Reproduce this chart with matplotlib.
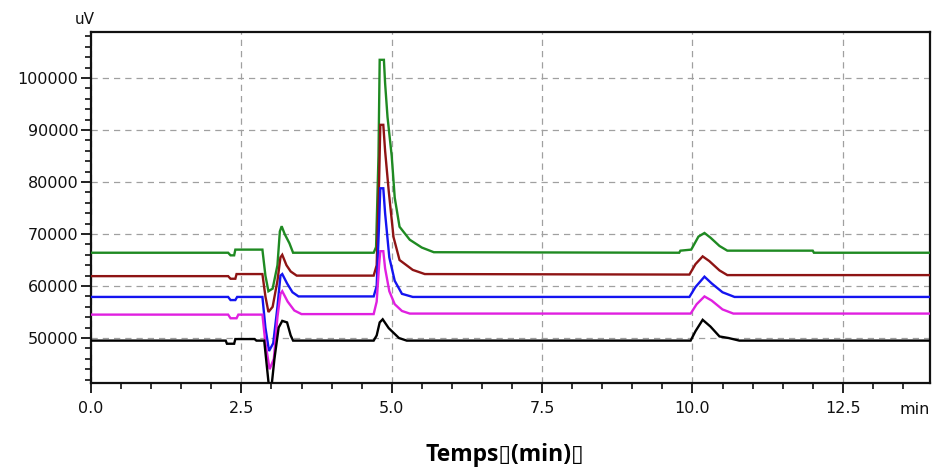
import matplotlib
matplotlib.use("Agg")
import matplotlib.pyplot as plt
from matplotlib.ticker import MultipleLocator, FixedLocator

# Chromatogram traces (retention time in min, detector signal in uV)
green_t = [0.00, 2.28, 2.32, 2.38, 2.40, 2.85, 2.90, 2.95, 3.02, 3.10, 3.14, 3.17, 3.22, 3.30, 3.36,
           4.70, 4.74, 4.78, 4.80, 4.87, 4.89, 4.93, 5.00, 5.05, 5.13, 5.30, 5.50, 5.70,
           9.78, 9.80, 9.98, 10.10, 10.20, 10.30, 10.45, 10.58, 12.00, 12.02, 13.95]
green_v = [66400, 66400, 65900, 65900, 67000, 67000, 62000, 59000, 59500, 64000, 70500, 71500, 70000, 68200, 66400,
           66400, 67500, 85000, 103500, 103500, 99000, 92500, 85000, 77000, 71400, 68900, 67400, 66500,
           66400, 66800, 67000, 69500, 70200, 69300, 67700, 66800, 66800, 66400, 66400]

red_t = [0.00, 2.28, 2.32, 2.40, 2.42, 2.85, 2.90, 2.95, 3.02, 3.10, 3.15, 3.18, 3.25, 3.32, 3.42,
         4.70, 4.75, 4.79, 4.81, 4.86, 4.89, 4.95, 5.03, 5.13, 5.35, 5.55,
         9.95, 10.05, 10.17, 10.28, 10.45, 10.58, 13.95]
red_v = [61900, 61900, 61400, 61400, 62300, 62300, 58000, 55000, 56000, 61000, 65500, 66000, 64000, 62800, 62000,
         62000, 64000, 80000, 91000, 91000, 86000, 78300, 69400, 65000, 63100, 62300,
         62200, 64200, 65700, 64800, 63000, 62100, 62100]

blue_t = [0.00, 2.28, 2.32, 2.40, 2.43, 2.85, 2.90, 2.96, 3.03, 3.10, 3.15, 3.18, 3.26, 3.35, 3.45,
          4.70, 4.75, 4.79, 4.81, 4.86, 4.89, 4.96, 5.05, 5.17, 5.35,
          9.95, 10.05, 10.20, 10.32, 10.50, 10.70, 13.95]
blue_v = [57900, 57900, 57300, 57300, 57900, 57900, 52000, 47500, 49000, 56000, 62000, 62300, 60500, 58800, 58000,
          58000, 60000, 72000, 78800, 78800, 74000, 65500, 61000, 58500, 57900,
          57900, 59800, 61800, 60500, 58800, 57900, 57900]

magenta_t = [0.00, 2.28, 2.32, 2.42, 2.45, 2.85, 2.90, 2.97, 3.04, 3.10, 3.15, 3.18, 3.27, 3.38, 3.50,
             4.70, 4.75, 4.79, 4.81, 4.86, 4.89, 4.96, 5.05, 5.17, 5.30,
             9.97, 10.07, 10.20, 10.32, 10.50, 10.68, 13.95]
magenta_v = [54500, 54500, 53800, 53800, 54500, 54500, 49000, 44000, 46000, 54000, 58500, 59000, 57000, 55300, 54600,
             54600, 57000, 64000, 66700, 66700, 63400, 59000, 56500, 55200, 54700,
             54700, 56500, 58000, 57200, 55500, 54700, 54700]

black_t = [0.00, 2.24, 2.26, 2.38, 2.40, 2.72, 2.75, 2.88, 2.92, 2.96, 3.00, 3.05, 3.12, 3.18, 3.26, 3.32, 3.36,
           4.70, 4.75, 4.80, 4.85, 4.95, 5.12, 5.25,
           9.97, 10.05, 10.17, 10.30, 10.45, 10.60, 10.78, 13.95]
black_v = [49500, 49500, 48900, 48900, 49800, 49800, 49500, 49500, 45000, 40500, 40500, 46000, 52000, 53300, 53000, 50500, 49500,
           49500, 50500, 53000, 53600, 51900, 50000, 49500,
           49500, 51300, 53500, 52200, 50300, 50000, 49500, 49500]

x_ticks = [0.0, 2.5, 5.0, 7.5, 10.0, 12.5]
x_tick_labels = ["0.0", "2.5", "5.0", "7.5", "10.0", "12.5"]
y_ticks = [50000, 60000, 70000, 80000, 90000, 100000]
y_tick_labels = ["50000", "60000", "70000", "80000", "90000", "100000"]

fig = plt.figure(figsize=(9.37, 4.75), dpi=100)
ax = fig.add_axes([91 / 937, 1 - 383 / 475, (930 - 91) / 937, (383 - 32) / 475])

traces = [
    (green_t, green_v, "#1f8a22"),
    (red_t, red_v, "#8e1414"),
    (blue_t, blue_v, "#1414f0"),
    (magenta_t, magenta_v, "#e020e0"),
    (black_t, black_v, "#000000"),
]
for t, v, c in traces:
    ax.plot(t, v, color=c, lw=1.7, solid_joinstyle="miter", zorder=3)

ax.set_xlim(0, 13.95)
ax.set_ylim(41350, 108850)

ax.xaxis.set_major_locator(FixedLocator(x_ticks))
ax.set_xticklabels(x_tick_labels)
ax.xaxis.set_minor_locator(MultipleLocator(0.5))
ax.yaxis.set_major_locator(FixedLocator(y_ticks))
ax.set_yticklabels(y_tick_labels)
ax.yaxis.set_minor_locator(MultipleLocator(2000))

ax.tick_params(which="major", direction="out", length=7, width=1.3,
               labelsize=11.5, colors="#111111")
ax.tick_params(axis="x", which="major", pad=6)
ax.tick_params(axis="y", which="major", pad=2)
ax.tick_params(which="minor", direction="out", length=4, width=1.2, colors="#111111")

for s in ax.spines.values():
    s.set_linewidth(1.6)
    s.set_color("#111111")

ax.grid(True, which="major", color="#a0a0a0", lw=0.9, linestyle=(0, (5, 4)), zorder=1)

ax.text(-0.008, 1.015, "uV", transform=ax.transAxes, ha="center", va="bottom",
        fontsize=11, color="#111111")
fig.text(915 / 937, 1 - 410 / 475, "min", ha="center", va="center",
         fontsize=11.5, color="#111111")

fig.text(505 / 937, 1 - 455 / 475, "Temps\u25af(min)\u25af", ha="center", va="center",
         fontsize=16.5, fontweight="bold", family=["Open Sans", "DejaVu Sans"])

fig.savefig("out.png", dpi=100)
